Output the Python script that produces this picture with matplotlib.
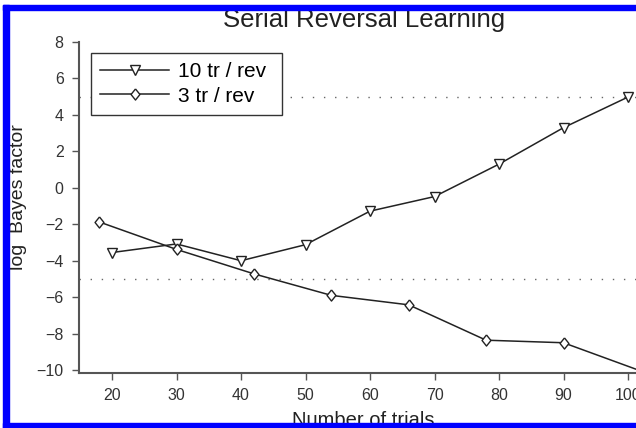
import numpy as np
import matplotlib.pyplot as plt
from matplotlib.patches import Rectangle

plt.rcParams['font.family'] = ['Liberation Sans', 'DejaVu Sans']

# data
x_10 = [20, 30, 40, 50, 60, 70, 80, 90, 100]
y_10 = [-3.55, -3.08, -4.0, -3.12, -1.28, -0.48, 1.3, 3.3, 4.98]
x_3 = [18, 30, 42, 54, 66, 78, 90, 102]
y_3 = [-1.87, -3.38, -4.72, -5.9, -6.42, -8.36, -8.5, -10.05]
ref_levels = [5, -5]
xticks = [20, 30, 40, 50, 60, 70, 80, 90, 100]
yticks = [-10, -8, -6, -4, -2, 0, 2, 4, 6, 8]

W, H = 636, 428
fig = plt.figure(figsize=(W / 100, H / 100), dpi=100)
ax = fig.add_axes([79 / W, (H - 373) / H, 1 - 79 / W, (373 - 42) / H])

ink = '#222222'
diamond = [(0, 1), (0.8, 0), (0, -1), (-0.8, 0), (0, 1)]

for lev in ref_levels:
    ax.axhline(lev, color='#666666', lw=1.0, ls=(0, (1, 7)), zorder=1)

ax.plot(x_10, y_10, color=ink, lw=1.1, marker='v', ms=6.8,
        mfc='white', mec=ink, mew=1.0, label='10 tr / rev ', zorder=3)
ax.plot(x_3, y_3, color=ink, lw=1.1, marker=diamond, ms=8,
        mfc='white', mec=ink, mew=1.0, label='3 tr / rev', zorder=3)

ax.set_xlim(14.88, 101.24)
ax.set_ylim(-10.16, 8)
ax.set_xticks(xticks)
ax.set_yticks(yticks)
ax.set_yticklabels(['\u2212' + str(-t) if t < 0 else str(t) for t in yticks])

for side in ['top', 'right']:
    ax.spines[side].set_visible(False)
for side in ['left', 'bottom']:
    ax.spines[side].set_color('#555555')
    ax.spines[side].set_linewidth(1.5)
ax.tick_params(direction='out', length=5, width=1.0, color='#555555',
               labelsize=11.5, labelcolor='#333333', pad=6)

leg = ax.legend(loc='upper left', bbox_to_anchor=(91 / W, 1 - 53 / H),
                bbox_transform=fig.transFigure, borderaxespad=0,
                fontsize=15, frameon=True, fancybox=False,
                handlelength=3.3, handletextpad=0.45, labelspacing=0.25,
                borderpad=0.45)
leg.get_frame().set_edgecolor('#333333')
leg.get_frame().set_linewidth(1.0)
leg.get_frame().set_alpha(1)
leg.set_zorder(5)

fig.text(364 / W, 1 - 27 / H, 'Serial Reversal Learning', ha='center',
         va='baseline', fontsize=18.5, color='#222222')
fig.text(19 / W, 1 - 197 / H, 'log  Bayes factor', rotation=90,
         ha='center', va='center', fontsize=14, color='#222222')
fig.text(363 / W, 1 - 426 / H, 'Number of trials', ha='center',
         va='baseline', fontsize=14.5, color='#222222')

# blue frame around the image
blue = '#0000ff'
fig.patches.append(Rectangle((3 / W, 1 - 10 / H), 1, 5 / H,
                             transform=fig.transFigure, color=blue, zorder=10))
fig.patches.append(Rectangle((3 / W, 0), 6 / W, 1 - 5 / H,
                             transform=fig.transFigure, color=blue, zorder=10))
fig.patches.append(Rectangle((3 / W, 0), 1, 5 / H,
                             transform=fig.transFigure, color=blue, zorder=10))

fig.savefig('out.png', dpi=100)
